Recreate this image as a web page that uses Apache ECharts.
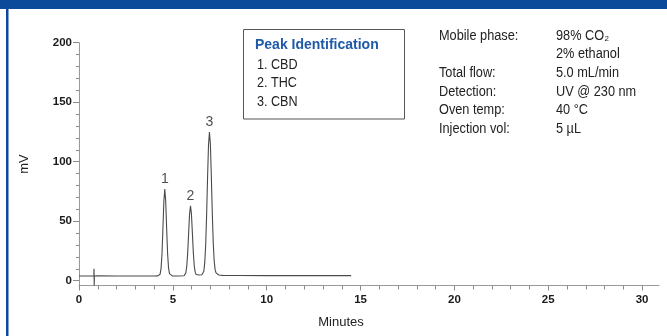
<!DOCTYPE html>
<html><head><meta charset="utf-8">
<script src="https://cdn.jsdelivr.net/npm/echarts@6/dist/echarts.min.js"></script>
<style>html,body{margin:0;padding:0;background:#fff}#c{width:667px;height:336px}</style>
</head><body><div id="c"></div>
<script>
// Chromatogram trace (minutes, mV)
const traceTime = [0, 0.5, 0.79, 0.80, 0.81, 0.82, 0.95, 1.0, 1.03, 2, 3, 4.0, 4.2,
  4.27, 4.32, 4.37, 4.42, 4.47, 4.52, 4.57, 4.62, 4.67, 4.72, 4.77, 4.82, 4.87, 4.97, 5.3, 5.6,
  5.64, 5.69, 5.74, 5.79, 5.84, 5.89, 5.94, 5.99, 6.04, 6.09, 6.14, 6.19, 6.24, 6.29, 6.4, 6.5,
  6.55, 6.60, 6.65, 6.70, 6.75, 6.80, 6.85, 6.90, 6.95, 7.00, 7.05, 7.10, 7.15, 7.20, 7.25, 7.30, 7.35, 7.45, 7.65,
  8.5, 10, 12, 14.5];
const traceMV = [4.0, 4.0, 4.0, 10.0, -4.0, 4.0, 4.1, 5.2, 4.0, 4.0, 4.0, 4.0, 4.1,
  4.3, 5.5, 10.2, 22.2, 43.4, 66.6, 77, 66.6, 43.6, 22.8, 10.8, 6.0, 4.6, 4.1, 4.0, 4.2,
  4.7, 6.6, 12.0, 23.2, 39.8, 56.0, 63, 56.2, 40.2, 23.8, 12.6, 7.2, 5.2, 4.6, 4.8, 4.8,
  5.0, 5.8, 8.0, 15.4, 30.7, 55.7, 86.9, 114, 125, 114.5, 88, 57.5, 32.5, 17, 9.5, 6.6, 5.4, 4.8, 4.5,
  4.4, 4.3, 4.3, 4.3];

const peakNames = ['1', '2', '3'];
const peakTimes = [4.57, 5.94, 6.95];
const peakHeights = [77, 63, 125];

const legendTitle = 'Peak Identification';
const compoundList = ['1. CBD', '2. THC', '3. CBN'];
const conditionLabels = ['Mobile phase:', '', 'Total flow:', 'Detection:', 'Oven temp:', 'Injection vol:'];
const conditionValues = ['98% CO\u2082', '2% ethanol', '5.0 mL/min', 'UV @ 230 nm', '40 \u00B0C', '5 \u00B5L'];

const xTicks = [0, 5, 10, 15, 20, 25, 30];
const xMinorTicks = [1, 2, 3, 4, 6, 7, 8, 9, 11, 12, 13, 14, 16, 17, 18, 19, 21, 22, 23, 24, 26, 27, 28, 29];
const yTicks = [0, 50, 100, 150, 200];
const yMinorTicks = [10, 20, 30, 40, 60, 70, 80, 90, 110, 120, 130, 140, 160, 170, 180, 190];
const xName = 'Minutes';
const yName = 'mV';

const chart = echarts.init(document.getElementById('c'), null, {renderer: 'canvas'});
const FONT = '"Liberation Sans", Arial, sans-serif';
const axisGray = '#9a9a9a';
const tickGray = '#8a8a8a';
const blue = '#0b4a9a';

const xMin = 0, xMax = 30.9, yMin = -4, yMax = 200;

function xAxisBase(extra) {
  return Object.assign({
    type: 'value', min: xMin, max: xMax, position: 'bottom', gridIndex: 0,
    splitLine: {show: false}
  }, extra);
}
function yAxisBase(extra) {
  return Object.assign({
    type: 'value', min: yMin, max: yMax, position: 'left', gridIndex: 0,
    splitLine: {show: false}
  }, extra);
}

const option = {
  animation: false,
  backgroundColor: '#fff',
  grid: {left: 79, right: 8, top: 42.7, bottom: 50.5, outerBoundsMode: 'none', containLabel: false},
  xAxis: [
    xAxisBase({
      name: xName, nameLocation: 'middle', nameGap: 30,
      nameTextStyle: {fontFamily: FONT, fontSize: 13, color: '#222', padding: [0, 56, 0, 0]},
      axisLine: {show: true, onZero: false, lineStyle: {color: axisGray, width: 1}},
      axisTick: {show: true, customValues: xTicks, length: 5, inside: false, lineStyle: {color: tickGray}},
      axisLabel: {customValues: xTicks, margin: 8, fontFamily: FONT, fontSize: 11.5, fontWeight: 'bold', color: '#1a1a1a'}
    }),
    xAxisBase({
      axisLine: {show: false, onZero: false},
      axisTick: {show: true, customValues: xMinorTicks, length: 4, lineStyle: {color: tickGray}},
      axisLabel: {show: false}
    })
  ],
  yAxis: [
    yAxisBase({
      name: yName, nameLocation: 'middle', nameGap: 48, nameRotate: 90,
      nameTextStyle: {fontFamily: FONT, fontSize: 13, color: '#222'},
      axisLine: {show: true, onZero: false, lineStyle: {color: axisGray, width: 1}},
      axisTick: {show: true, customValues: yTicks, length: 6, lineStyle: {color: tickGray}},
      axisLabel: {customValues: yTicks, margin: 7, fontFamily: FONT, fontSize: 11.5, fontWeight: 'bold', color: '#1a1a1a'}
    }),
    yAxisBase({
      axisLine: {show: false, onZero: false},
      axisTick: {show: true, customValues: yMinorTicks, length: 3, lineStyle: {color: tickGray}},
      axisLabel: {show: false}
    })
  ],
  series: [
    {
      type: 'line', xAxisIndex: 0, yAxisIndex: 0,
      data: traceTime.map((t, i) => [t, traceMV[i]]),
      showSymbol: false, symbol: 'none', smooth: false,
      lineStyle: {color: '#4a4a4a', width: 1.1},
      silent: true
    },
    {
      type: 'scatter', xAxisIndex: 0, yAxisIndex: 0,
      data: peakTimes.map((t, i) => [t, peakHeights[i], peakNames[i]]),
      symbolSize: 0, silent: true,
      label: {
        show: true, position: 'top', distance: 3,
        formatter: p => p.data[2],
        fontFamily: FONT, fontSize: 14, color: '#222'
      }
    }
  ],
  graphic: [
    {type: 'rect', shape: {x: 0, y: 0, width: 667, height: 9}, style: {fill: blue}, silent: true},
    {type: 'rect', shape: {x: 6, y: 0, width: 2.5, height: 336}, style: {fill: blue}, silent: true},
    {type: 'rect', shape: {x: 243.5, y: 29.5, width: 161, height: 89.5},
      style: {fill: '#fff', stroke: '#555', lineWidth: 1}, silent: true},
    {type: 'text', x: 255, y: 45, style: {text: legendTitle, font: 'bold 14px ' + FONT, fill: '#1e5aa8', verticalAlign: 'middle'}, silent: true},
    {type: 'text', x: 257, y: 55.8, scaleX: 0.9, originX: 0, originY: 0,
      style: {text: compoundList.join('\n'), font: '14px ' + FONT, fill: '#222', lineHeight: 18.35}, silent: true},
    {type: 'text', x: 439, y: 26.4, scaleX: 0.91, originX: 0, originY: 0,
      style: {text: conditionLabels.join('\n'), font: '14px ' + FONT, fill: '#222', lineHeight: 18.65}, silent: true},
    {type: 'text', x: 556, y: 26.4, scaleX: 0.91, originX: 0, originY: 0,
      style: {text: conditionValues.join('\n'), font: '14px ' + FONT, fill: '#222', lineHeight: 18.65}, silent: true}
  ]
};
chart.setOption(option);
</script>
</body></html>
